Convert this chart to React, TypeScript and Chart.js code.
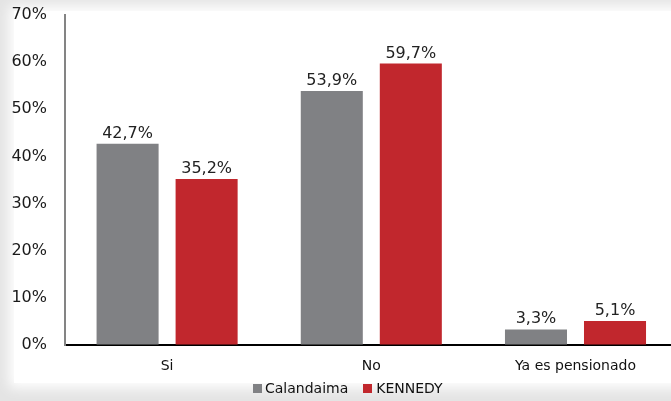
import React, { useEffect, useRef } from "react";
import { Chart, registerables } from "chart.js";

Chart.register(...registerables);

const categories = ["Si", "No", "Ya es pensionado"];
const seriesNames = ["Calandaima", "KENNEDY"];
const calandaima = [42.7, 53.9, 3.3];
const kennedy = [35.2, 59.7, 5.1];
const seriesColors = ["#808184", "#c1272d"];
const yMin = 0;
const yMax = 70;
const yStep = 10;

const FONT = "'DejaVu Sans', Verdana, sans-serif";

const fmt = (v: number) => v.toFixed(1).replace(".", ",") + "%";

const valueLabels = {
  id: "valueLabels",
  afterDatasetsDraw(chart: any) {
    const ctx = chart.ctx;
    ctx.save();
    ctx.font = `16px ${FONT}`;
    ctx.fillStyle = "#222";
    ctx.textAlign = "center";
    ctx.textBaseline = "alphabetic";
    chart.data.datasets.forEach((ds: any, i: number) => {
      const meta = chart.getDatasetMeta(i);
      meta.data.forEach((el: any, j: number) => {
        ctx.fillText(fmt(ds.data[j]), el.x, el.y - 6);
      });
    });
    ctx.restore();
  },
};

export default function App() {
  const ref = useRef<HTMLCanvasElement | null>(null);

  useEffect(() => {
    if (!ref.current) return;
    const chart = new Chart(ref.current, {
      type: "bar",
      data: {
        labels: categories,
        datasets: [
          {
            label: seriesNames[0],
            data: calandaima,
            backgroundColor: seriesColors[0],
            categoryPercentage: 0.774,
            barPercentage: 0.785,
          },
          {
            label: seriesNames[1],
            data: kennedy,
            backgroundColor: seriesColors[1],
            categoryPercentage: 0.774,
            barPercentage: 0.785,
          },
        ],
      },
      options: {
        animation: false,
        responsive: false,
        maintainAspectRatio: false,
        layout: { padding: { top: 15, right: 12.4, left: 0, bottom: 0 } },
        plugins: {
          legend: { display: false },
          tooltip: { enabled: false },
        },
        scales: {
          x: {
            grid: { display: false, drawTicks: false },
            border: { display: true, color: "#000", width: 2 },
            ticks: {
              color: "#111",
              font: { family: FONT, size: 14 },
              padding: 13,
            },
            afterFit: (s: any) => {
              s.height = 56;
            },
          },
          y: {
            min: yMin,
            max: yMax,
            grid: {
              display: true,
              drawOnChartArea: false,
              drawTicks: true,
              tickLength: 18,
              color: "rgba(0,0,0,0)",
            },
            border: { display: true, color: "#848484", width: 2 },
            ticks: {
              stepSize: yStep,
              color: "#1a1a1a",
              font: { family: FONT, size: 16 },
              padding: 0,
              callback: (v: any) => v + "%",
            },
            afterFit: (s: any) => {
              s.width = 65;
            },
          },
        },
      },
      plugins: [valueLabels],
    });
    return () => chart.destroy();
  }, []);

  return (
    <div
      style={{
        position: "absolute",
        left: 0,
        top: 0,
        width: 671,
        height: 401,
        overflow: "hidden",
        background: "#e4e4e4",
        fontFamily: FONT,
      }}
    >
      <div
        style={{
          position: "absolute",
          left: 14,
          top: 11,
          width: 700,
          height: 372,
          background: "#fff",
          boxShadow: "0 0 12px 5px #fff",
        }}
      />
      <canvas
        ref={ref}
        width={690}
        height={401}
        style={{ position: "absolute", left: 0, top: 0, width: 690, height: 401 }}
      />
      <div
        style={{
          position: "absolute",
          left: 253,
          top: 379,
          height: 18,
          display: "flex",
          alignItems: "center",
          fontSize: 14,
          color: "#111",
          whiteSpace: "nowrap",
        }}
      >
        <span style={{ width: 9, height: 9, background: seriesColors[0], display: "inline-block", marginRight: 3 }} />
        <span>{seriesNames[0]}</span>
        <span style={{ width: 9, height: 9, background: seriesColors[1], display: "inline-block", marginLeft: 15, marginRight: 4 }} />
        <span>{seriesNames[1]}</span>
      </div>
    </div>
  );
}
